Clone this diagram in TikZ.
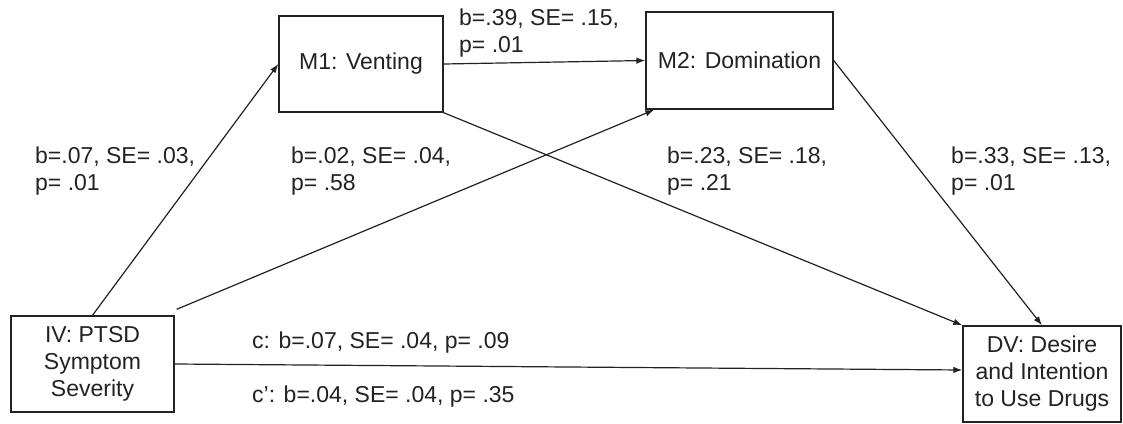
\documentclass[tikz,border=0pt]{standalone}
\usepackage{fontspec}
\setmainfont{Liberation Sans}
\usetikzlibrary{arrows.meta,calc}
\definecolor{ink}{HTML}{222222}
\begin{document}
\begin{tikzpicture}[x=1pt,y=-1pt,
  box/.style={draw=ink,line width=1.4pt,rectangle,inner sep=0pt,align=center,text=ink,
    font=\fontsize{23}{27}\selectfont},
  lbl/.style={inner sep=0pt,anchor=base west,align=left,text=ink,
    font=\fontsize{23}{27}\selectfont},
  conn/.style={draw=ink,line width=1.2pt,-{Latex[length=9pt,width=6.5pt]}}]
\useasboundingbox[fill=white] (0,0) rectangle (1123,423);
\node[box,minimum width=164pt,minimum height=96pt] (m1) at (361,64) {M1: Venting};
\node[box,minimum width=187pt,minimum height=97pt] (m2) at (739.5,60.5) {M2: Domination};
\node[box,minimum width=163pt,minimum height=96pt] (iv) at (92.5,364) {IV: PTSD\\Symptom\\Severity};
\node[box,minimum width=158pt,minimum height=96pt] (dv) at (1042,374) {DV: Desire\\and Intention\\to Use Drugs};
\draw[conn] (iv.north) -- (m1.west);
\draw[conn] ($(iv.north east)+(2,-6)$) -- ($(m2.south west)+(9,0)$);
\draw[conn] (m1.east) -- (m2.west);
\draw[conn] (m1.south east) -- (dv.north west);
\draw[conn] (m2.east) -- (dv.north);
\draw[conn] (iv.east) -- ($(dv.west)+(0,-4)$);
\node[lbl] (l1) at (35,190) {b=.07, SE= .03,\\p= .01};
\node[lbl] (l2) at (459,52) {b=.39, SE= .15,\\p= .01};
\node[lbl] (l3) at (291,190) {b=.02, SE= .04,\\p= .58};
\node[lbl] (l4) at (667,190) {b=.23, SE= .18,\\p= .21};
\node[lbl] (l5) at (951,190) {b=.33, SE= .13,\\p= .01};
\node[lbl] (l6) at (252,348) {c: b=.07, SE= .04, p= .09};
\node[lbl] (l7) at (252,402) {c’: b=.04, SE= .04, p= .35};
\end{tikzpicture}
\end{document}
